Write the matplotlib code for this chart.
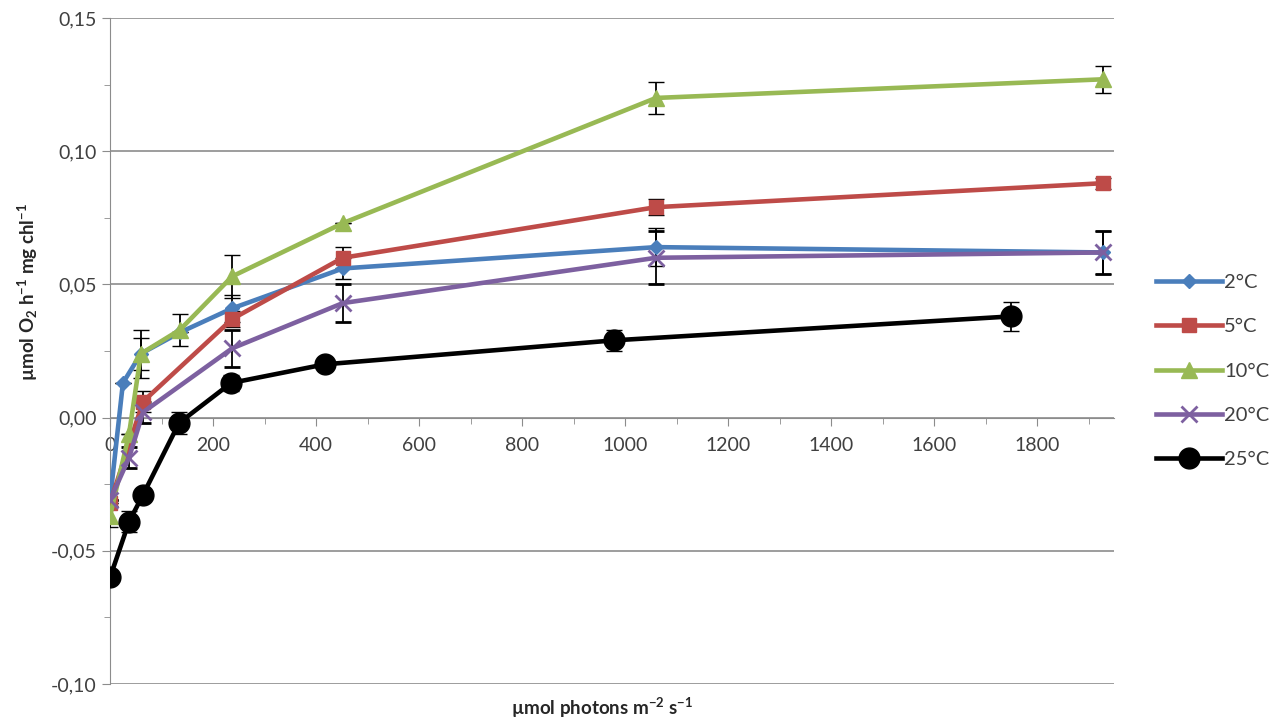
import numpy as np
import matplotlib
matplotlib.use('Agg')
import matplotlib.pyplot as plt
from matplotlib.ticker import MultipleLocator, FuncFormatter

plt.rcParams['font.family'] = ['Lato', 'DejaVu Sans']
plt.rcParams['mathtext.default'] = 'regular'

# Data
x_2 = [0, 25, 60, 136, 237, 452, 1060, 1928]
y_2 = [-0.031, 0.013, 0.024, 0.032, 0.041, 0.056, 0.064, 0.062]
e_2 = [0, 0, 0.006, 0, 0.005, 0.004, 0.007, 0.008]

x_5 = [0, 64, 237, 452, 1060, 1928]
y_5 = [-0.032, 0.006, 0.037, 0.060, 0.079, 0.088]
e_5 = [0, 0.004, 0.003, 0.004, 0.003, 0.002]

x_10 = [0, 37, 60, 136, 237, 452, 1060, 1928]
y_10 = [-0.037, -0.006, 0.024, 0.033, 0.053, 0.073, 0.120, 0.127]
e_10 = [0.004, 0, 0.009, 0.006, 0.008, 0, 0.006, 0.005]

x_20 = [0, 37, 64, 237, 452, 1060, 1928]
y_20 = [-0.031, -0.015, 0.002, 0.026, 0.043, 0.060, 0.062]
e_20 = [0, 0.004, 0.004, 0.007, 0.007, 0.010, 0.008]

x_25 = [0, 37, 64, 134, 235, 417, 978, 1750]
y_25 = [-0.060, -0.039, -0.029, -0.002, 0.013, 0.020, 0.029, 0.038]
e_25 = [0, 0.004, 0, 0.004, 0.003, 0, 0.004, 0.0055]

series = [
    ('2°C', x_2, y_2, e_2, '#4A7EBB', 'D', 7),
    ('5°C', x_5, y_5, e_5, '#BE4B48', 's', 10),
    ('10°C', x_10, y_10, e_10, '#98B954', '^', 12),
    ('20°C', x_20, y_20, e_20, '#7D60A0', 'x', 11),
    ('25°C', x_25, y_25, e_25, '#000000', 'o', 15),
]

fig = plt.figure(figsize=(12.81, 7.21), dpi=100)
ax = fig.add_axes([0.0859, 0.0513, 0.7841, 0.9237])

for label, xs, ys, es, color, marker, ms in series:
    ax.errorbar(xs, ys, yerr=es, color=color, lw=3.3, marker=marker, ms=ms,
                mew=2 if marker == 'x' else 1, mec=color, mfc=color,
                ecolor='black', elinewidth=1.3, capsize=6, capthick=1.3,
                label=label, zorder=3)

ax.set_xlim(0, 1950)
ax.set_ylim(-0.10, 0.15)
ax.yaxis.set_major_locator(MultipleLocator(0.05))
ax.yaxis.set_minor_locator(MultipleLocator(0.025))
ax.xaxis.set_major_locator(MultipleLocator(200))
ax.xaxis.set_minor_locator(MultipleLocator(100))
ax.yaxis.set_major_formatter(FuncFormatter(lambda v, p: f'{v:.2f}'.replace('.', ',').replace('-0,00', '0,00')))
ax.grid(axis='y', color='#8c8c8c', lw=1.2, zorder=0)
ax.set_axisbelow(True)

for s in ['top', 'right']:
    ax.spines[s].set_visible(False)
ax.spines['bottom'].set_position(('data', 0))
ax.spines['bottom'].set_color('#8c8c8c')
ax.spines['left'].set_color('#8c8c8c')
ax.tick_params(axis='both', which='both', color='#8c8c8c', direction='out', labelsize=14, labelcolor='#404040')
ax.tick_params(axis='both', which='major', length=6)
ax.tick_params(axis='both', which='minor', length=4)
ax.tick_params(axis='x', pad=8)

fig.text(0.47, 0.018, r'µmol photons m$^{-2}$ s$^{-1}$', ha='center', va='center',
         fontsize=13.5, fontweight='bold', color='#262626')
fig.text(0.022, 0.595, r'µmol O$_2$ h$^{-1}$ mg chl$^{-1}$', ha='center', va='center',
         rotation=90, fontsize=13.5, fontweight='bold', color='#262626')

handles, labels = ax.get_legend_handles_labels()
handles = [h[0] for h in handles]
leg = fig.legend(handles, labels, loc='upper left', bbox_to_anchor=(0.888, 0.645),
                 frameon=False, fontsize=14.5, labelspacing=1.35, handlelength=3.3,
                 handletextpad=0.1, labelcolor='#404040')

fig.savefig('out.png', dpi=100)
